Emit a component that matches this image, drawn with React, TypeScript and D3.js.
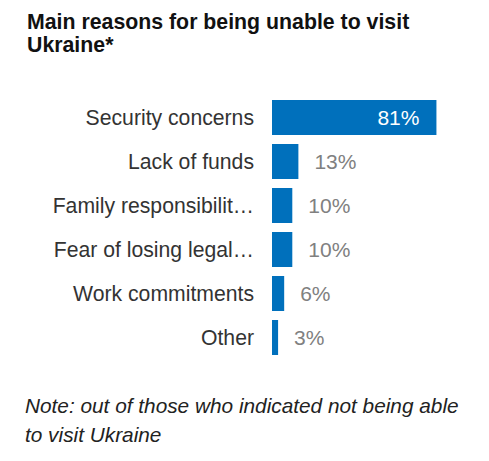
import React from "react";
import * as d3 from "d3";

const categories = [
  "Security concerns",
  "Lack of funds",
  "Family responsibilit…",
  "Fear of losing legal…",
  "Work commitments",
  "Other",
];
const values = [81, 13, 10, 10, 6, 3];
const title = ["Main reasons for being unable to visit", "Ukraine*"];
const note = ["Note: out of those who indicated not being able", "to visit Ukraine"];

export default function App() {
  const W = 489;
  const H = 461;
  const x0 = 272;
  const x = d3.scaleLinear().domain([0, 100]).range([x0, x0 + 203]);
  const y = d3
    .scaleBand<string>()
    .domain(categories)
    .range([100, 355])
    .paddingInner(9 / 44)
    .paddingOuter(0);
  const font = "Arial, 'Liberation Sans', sans-serif";
  return (
    <svg
      width={W}
      height={H}
      style={{ position: "absolute", left: 0, top: 0, background: "#fff" }}
      fontFamily={font}
    >
      {title.map((t, i) => (
        <text key={i} x={27} y={28.5 + i * 23} fontSize={21.3} fontWeight="bold" fill="#111">
          {t}
        </text>
      ))}
      {categories.map((c, i) => {
        const v = values[i];
        const yy = y(c)!;
        const bw = y.bandwidth();
        const xe = x(v);
        const inside = v > 50;
        return (
          <g key={c}>
            <text
              x={254}
              y={yy + bw / 2}
              dy="0.35em"
              textAnchor="end"
              fontSize={21.2}
              fill="#333"
            >
              {c}
            </text>
            <rect x={x0} y={yy} width={xe - x0} height={bw} fill="#0070bc" />
            <text
              x={inside ? xe - 17 : xe + 16}
              y={yy + bw / 2}
              dy="0.35em"
              textAnchor={inside ? "end" : "start"}
              fontSize={21}
              fill={inside ? "#fff" : "#808080"}
            >
              {v}%
            </text>
          </g>
        );
      })}
      {note.map((t, i) => (
        <text key={i} x={25} y={413 + i * 29} fontSize={20.8} fontStyle="italic" fill="#222">
          {t}
        </text>
      ))}
    </svg>
  );
}
